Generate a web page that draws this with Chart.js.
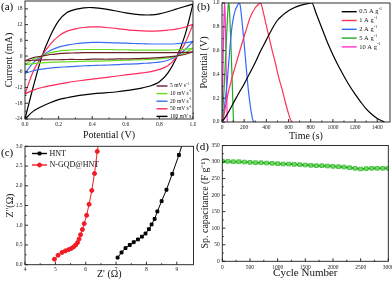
<!DOCTYPE html>
<html>
<head>
<meta charset="utf-8">
<script src="https://cdn.jsdelivr.net/npm/chart.js@4.4.1/dist/chart.umd.min.js"></script>
<style>
  body { margin: 0; background: #fff; }
  #wrap { position: relative; width: 392px; height: 283px; overflow: hidden; }
  canvas { position: absolute; }
  .tag { position: absolute; font: 11px "Liberation Serif", serif; line-height: 1; color: #000; }
</style>
</head>
<body>
<div id="wrap">
  <canvas id="cv" width="196" height="142" style="left:0;top:0;width:196px;height:142px"></canvas>
  <canvas id="gcd" width="196" height="142" style="left:196px;top:0;width:196px;height:142px"></canvas>
  <canvas id="eis" width="196" height="141" style="left:0;top:142px;width:196px;height:141px"></canvas>
  <canvas id="cyc" width="196" height="141" style="left:196px;top:142px;width:196px;height:141px"></canvas>
  <div class="tag" style="left:1px;top:1px">(a)</div>
  <div class="tag" style="left:197px;top:1px">(b)</div>
  <div class="tag" style="left:1px;top:147px">(c)</div>
  <div class="tag" style="left:196px;top:141px">(d)</div>
</div>
<script>
// (a) cyclic voltammetry, current (mA) on the forward and reverse sweep
var cvPotential = [0, 0.05, 0.1, 0.15, 0.2, 0.25, 0.3, 0.35, 0.4, 0.45, 0.5, 0.55, 0.6, 0.65, 0.7, 0.75, 0.8, 0.85, 0.9, 0.95, 1.0];
var cv5Anodic    = [-1.8, -0.6, 0.0, 0.6, 0.9, 1.1, 1.2, 1.3, 1.3, 1.3, 1.3, 1.3, 1.3, 1.3, 1.3, 1.3, 1.3, 1.3, 1.3, 1.4, 1.6];
var cv5Cathodic  = [-1.8, -1.6, -1.5, -1.4, -1.4, -1.3, -1.3, -1.3, -1.2, -1.2, -1.2, -1.1, -1.1, -1.0, -0.9, -0.8, -0.6, -0.3, 0.0, 0.6, 1.6];
var cv10Anodic   = [-3.3, -1.2, 0.0, 1.2, 1.9, 2.2, 2.4, 2.5, 2.5, 2.5, 2.5, 2.4, 2.4, 2.3, 2.3, 2.3, 2.3, 2.3, 2.4, 2.6, 3.0];
var cv10Cathodic = [-3.3, -2.9, -2.6, -2.4, -2.3, -2.2, -2.1, -2.0, -1.9, -1.9, -1.8, -1.7, -1.6, -1.5, -1.4, -1.3, -1.1, -0.7, 0.0, 1.2, 3.0];
var cv20Anodic   = [-6.6, -2.5, 0.0, 2.1, 3.4, 4.2, 4.7, 5.0, 5.2, 5.2, 5.1, 5.0, 4.9, 4.8, 4.7, 4.6, 4.6, 4.6, 4.7, 5.0, 5.6];
var cv20Cathodic = [-6.6, -5.6, -5.0, -4.6, -4.3, -4.1, -3.9, -3.7, -3.6, -3.5, -3.4, -3.3, -3.1, -3.0, -2.8, -2.6, -2.3, -1.6, -0.2, 2.3, 5.6];
var cv50Anodic   = [-14.4, -5.7, 0.0, 4.5, 7.6, 9.5, 10.4, 10.9, 11.1, 11.1, 10.8, 10.5, 10.1, 9.8, 9.6, 9.5, 9.6, 9.9, 10.3, 11.0, 12.1];
var cv50Cathodic = [-14.4, -13.0, -12.0, -11.3, -10.7, -10.1, -9.6, -9.2, -8.8, -8.4, -8.0, -7.6, -7.2, -6.8, -6.4, -5.9, -5.1, -3.7, -0.5, 4.5, 12.1];
var cv100Anodic  = [-24, -11.5, -0.3, 7.6, 13.4, 16.6, 17.8, 18.4, 18.5, 18.2, 17.7, 17.1, 16.5, 16.0, 15.7, 15.7, 16.1, 16.9, 17.9, 18.9, 19.8];
var cv100Cathodic = [-24, -21, -19.2, -17.8, -16.6, -15.9, -15.3, -14.8, -14.4, -14.1, -13.9, -13.6, -13.2, -12.7, -12.1, -11.3, -9.8, -6.5, -0.8, 7.5, 19.8];
var cvLabels = ['5 mV s⁻¹', '10 mV s⁻¹', '20 mV s⁻¹', '50 mV s⁻¹', '100 mV s⁻¹'];
var cvTicksX = [0, 0.2, 0.4, 0.6, 0.8, 1.0];
var cvTicksY = [-24, -18, -12, -6, 0, 6, 12, 18];

// (b) galvanostatic charge / discharge
var gcd05Time = [0, 50, 100, 150, 200, 250, 300, 350, 400, 450, 500, 550, 600, 650, 700, 750, 810, 850, 900, 950, 1000, 1050, 1100, 1150, 1200, 1250, 1300, 1350, 1400, 1440, 1465];
var gcd05Pot  = [0, 0.07, 0.155, 0.24, 0.32, 0.41, 0.50, 0.60, 0.69, 0.78, 0.855, 0.90, 0.935, 0.96, 0.978, 0.99, 1.0, 0.91, 0.79, 0.67, 0.565, 0.47, 0.385, 0.305, 0.235, 0.17, 0.11, 0.065, 0.03, 0.01, 0];
var gcd1Time  = [0, 15, 50, 90, 130, 180, 220, 256, 300, 330, 348, 360, 390, 420, 450, 480, 510, 540, 570, 600, 620, 635];
var gcd1Pot   = [0, 0.05, 0.22, 0.37, 0.50, 0.66, 0.78, 0.885, 0.96, 0.99, 1.0, 0.97, 0.85, 0.73, 0.61, 0.50, 0.38, 0.28, 0.17, 0.07, 0.015, 0];
var gcd2Time  = [0, 10, 25, 45, 60, 75, 90, 105, 120, 135, 155, 166, 180, 196, 211, 226, 241, 256, 270, 280, 288];
var gcd2Pot   = [0, 0.03, 0.15, 0.32, 0.49, 0.66, 0.80, 0.885, 0.94, 0.97, 1.0, 0.97, 0.85, 0.70, 0.54, 0.38, 0.24, 0.13, 0.05, 0.01, 0];
var gcd5Time  = [0, 8, 20, 30, 40, 48, 55, 60, 65, 72, 80, 88, 95, 100, 104];
var gcd5Pot   = [0, 0.1, 0.3, 0.5, 0.7, 0.85, 0.97, 1.0, 0.97, 0.85, 0.66, 0.45, 0.25, 0.1, 0];
var gcd10Time = [0, 5, 10, 15, 20, 24, 28, 33, 38, 43, 47, 48];
var gcd10Pot  = [0, 0.25, 0.5, 0.75, 0.93, 1.0, 0.92, 0.7, 0.45, 0.2, 0.02, 0];
var gcdLabels = ['0.5 A g⁻¹', '1 A g⁻¹', '2 A g⁻¹', '5 A g⁻¹', '10 A g⁻¹'];
var gcdTicksX = [0, 200, 400, 600, 800, 1000, 1200, 1400];
var gcdTicksY = [0, 0.2, 0.4, 0.6, 0.8, 1.0];

// (c) Nyquist plot
var hntZre  = [7.05, 7.18, 7.31, 7.45, 7.58, 7.72, 7.85, 7.97, 8.08, 8.17, 8.27, 8.36, 8.5, 8.66, 8.85, 9.07, 9.2];
var hntZim  = [0.18, 0.31, 0.42, 0.5, 0.57, 0.64, 0.71, 0.79, 0.9, 1.02, 1.16, 1.35, 1.61, 1.9, 2.3, 2.78, 3.1];
var ngqdZre = [4.97, 5.09, 5.22, 5.33, 5.43, 5.52, 5.6, 5.67, 5.73, 5.78, 5.83, 5.89, 5.95, 6.03, 6.11, 6.2, 6.29, 6.38, 6.44];
var ngqdZim = [0.14, 0.24, 0.31, 0.35, 0.38, 0.41, 0.45, 0.5, 0.56, 0.65, 0.76, 0.89, 1.04, 1.25, 1.53, 1.88, 2.31, 2.87, 3.15];
var eisTicksX = [4, 5, 6, 7, 8, 9];
var eisTicksY = [0, 0.5, 1.0, 1.5, 2.0, 2.5, 3.0];

// (d) cycling stability
var cycNumber = [0, 100, 200, 300, 400, 500, 600, 700, 800, 900, 1000, 1100, 1200, 1300, 1400, 1500, 1600, 1700, 1800, 1900, 2000, 2100, 2200, 2300, 2400, 2500, 2600, 2700, 2800, 2900, 3000];
var cycCapacitance = [303, 302, 301, 301, 300, 299, 298, 298, 297, 296, 295, 294, 294, 293, 292, 291, 290, 289, 289, 288, 287, 286, 285, 283, 281, 279, 280, 281, 281, 281, 281];
var cycTicksX = [0, 500, 1000, 1500, 2000, 2500, 3000];
var cycTicksY = [0, 50, 100, 150, 200, 250, 300, 350];

Chart.defaults.font.family = '"Liberation Serif", "Times New Roman", serif';

function pairs(xs, ys) {
	return xs.map(function(x, i) { return { x: x, y: ys[i] }; });
}

// forward sweep then the reverse sweep back to 0 V
function cvLoop(anodic, cathodic) {
	var pts = pairs(cvPotential, anodic);
	for (var i = cvPotential.length - 1; i >= 0; i--) {
		pts.push({ x: cvPotential[i], y: cathodic[i] });
	}
	return pts;
}

function drawSupText(ctx, text, x, y, size) {
	var parts = text.split('⁻¹');
	ctx.textAlign = 'left';
	ctx.textBaseline = 'middle';
	ctx.font = size + 'px "Liberation Serif"';
	ctx.fillText(parts[0], x, y);
	if (parts.length > 1) {
		var w = ctx.measureText(parts[0]).width;
		ctx.font = (size * 0.6) + 'px "Liberation Serif"';
		ctx.fillText('-1', x + w + 0.3, y - size * 0.38);
	}
}

function withMinor(scale) {
	var vals = scale.ticks.map(function(t) { return t.value; });
	var out = [];
	vals.forEach(function(v, i) {
		out.push([v, true]);
		if (i < vals.length - 1) out.push([(v + vals[i + 1]) / 2, false]);
	});
	return out;
}

// closed box with inward ticks
var frame = {
	id: 'frame',
	afterDatasetsDraw: function(chart) {
		var ctx = chart.ctx, a = chart.chartArea;
		var xs = chart.scales.x, ys = chart.scales.y;
		ctx.save();
		ctx.strokeStyle = '#1a1a1a';
		ctx.lineWidth = 0.9;
		ctx.strokeRect(a.left, a.top, a.right - a.left, a.bottom - a.top);
		ctx.beginPath();
		withMinor(xs).forEach(function(t) {
			var p = xs.getPixelForValue(t[0]);
			ctx.moveTo(p, a.bottom);
			ctx.lineTo(p, a.bottom - (t[1] ? 3 : 1.5));
		});
		withMinor(ys).forEach(function(t) {
			var p = ys.getPixelForValue(t[0]);
			ctx.moveTo(a.left, p);
			ctx.lineTo(a.left + (t[1] ? 3 : 1.5), p);
		});
		ctx.stroke();
		ctx.restore();
	}
};

var boxLegend = {
	id: 'boxLegend',
	afterDraw: function(chart, args, opts) {
		if (opts.x == null) return;
		var ctx = chart.ctx;
		ctx.save();
		chart.data.datasets.forEach(function(ds, i) {
			var y = opts.y + i * opts.gap;
			ctx.strokeStyle = ds.borderColor;
			ctx.lineWidth = 1.4;
			ctx.beginPath();
			ctx.moveTo(opts.x, y);
			ctx.lineTo(opts.x + opts.len, y);
			ctx.stroke();
			if (ds.pointRadius) {
				ctx.fillStyle = ds.pointBackgroundColor;
				ctx.lineWidth = 1;
				Chart.helpers.drawPoint(ctx, { pointStyle: ds.pointStyle, radius: ds.pointRadius, borderWidth: 1, rotation: 0 }, opts.x + opts.len / 2, y);
			}
			ctx.fillStyle = '#111';
			drawSupText(ctx, ds.label, opts.x + opts.len + 2.5, y, opts.size);
		});
		ctx.restore();
	}
};

function axis(horizontal, min, max, ticks, digits, title, size, titleSize, titlePad, tickPad) {
	return {
		type: 'linear',
		min: min,
		max: max,
		afterBuildTicks: function(s) {
			s.ticks = ticks.map(function(v) { return { value: v }; });
		},
		afterFit: function(s) {
			if (horizontal) s.height = size; else s.width = size;
			s.paddingLeft = 0; s.paddingRight = 0; s.paddingTop = 0; s.paddingBottom = 0;
		},
		grid: { display: false, drawTicks: false },
		border: { display: false },
		ticks: {
			font: { size: 5.5 },
			color: '#222',
			padding: tickPad,
			maxRotation: 0,
			autoSkip: false,
			callback: function(v) { return v.toFixed(digits); }
		},
		title: {
			display: true,
			text: title,
			color: '#111',
			font: { size: titleSize },
			padding: horizontal ? { top: 0, bottom: titlePad } : { top: titlePad, bottom: 0 }
		}
	};
}

function panel(id, datasets, xScale, yScale, pad, legend) {
	return new Chart(document.getElementById(id), {
		type: 'scatter',
		data: { datasets: datasets },
		options: {
			responsive: false,
			animation: false,
			devicePixelRatio: 1,
			layout: { autoPadding: false, padding: pad },
			scales: { x: xScale, y: yScale },
			plugins: {
				legend: { display: false },
				tooltip: { enabled: false },
				boxLegend: legend
			}
		},
		plugins: [frame, boxLegend]
	});
}

// (a)
var cvColors = ['#6e1f2b', '#66dd22', '#3b6cf2', '#ff2a5a', '#000000'];
var cvSeries = [[cv5Anodic, cv5Cathodic], [cv10Anodic, cv10Cathodic], [cv20Anodic, cv20Cathodic],
	[cv50Anodic, cv50Cathodic], [cv100Anodic, cv100Cathodic]];
panel('cv', cvSeries.map(function(s, i) {
	return {
		label: cvLabels[i], data: cvLoop(s[0], s[1]), showLine: true,
		borderColor: cvColors[i], borderWidth: 1.2, pointRadius: 0, tension: 0.3, clip: 0
	};
}),
	axis(true, 0, 1, cvTicksX, 1, 'Potential (V)', 23, 10, 1, 2.5),
	axis(false, -24, 21, cvTicksY, 0, 'Current (mA)', 25, 10, 3, 2.5),
	{ top: 1, right: 3, left: 0, bottom: 0 },
	{ x: 156.5, y: 86, gap: 7.6, len: 11, size: 5.5 });

// (b)
var gcdColors = ['#000000', '#ff3355', '#3366ff', '#22aa22', '#ff33cc'];
var gcdSeries = [[gcd05Time, gcd05Pot], [gcd1Time, gcd1Pot], [gcd2Time, gcd2Pot], [gcd5Time, gcd5Pot], [gcd10Time, gcd10Pot]];
panel('gcd', gcdSeries.map(function(s, i) {
	return {
		label: gcdLabels[i], data: pairs(s[0], s[1]), showLine: true,
		borderColor: gcdColors[i], borderWidth: 1.2, pointRadius: 0,
		cubicInterpolationMode: 'monotone', clip: 0
	};
}),
	axis(true, 0, 1515, gcdTicksX, 0, 'Time (s)', 20, 10, 0, 2.5),
	axis(false, 0, 1, gcdTicksY, 1, 'Potential (V)', 26, 10, 2, 2.5),
	{ top: 3, right: 2, left: 0, bottom: 0 },
	{ x: 145.7, y: 11.7, gap: 8.8, len: 15, size: 6.5 });

// (c)
panel('eis', [
	{ label: 'HNT', data: pairs(hntZre, hntZim), showLine: true, borderColor: '#000', borderWidth: 1,
		pointStyle: 'rect', pointRadius: 2, pointBackgroundColor: '#000', pointBorderColor: '#000', clip: 0 },
	{ label: 'N-GQD@HNT', data: pairs(ngqdZre, ngqdZim), showLine: true, borderColor: '#f01c24', borderWidth: 1,
		pointStyle: 'circle', pointRadius: 2, pointBackgroundColor: '#f01c24', pointBorderColor: '#f01c24', clip: 0 }
],
	axis(true, 4, 9.55, eisTicksX, 0, "Z' (Ω)", 18.3, 10, 2.3, 2),
	axis(false, 0, 3, eisTicksY, 1, "Z''(Ω)", 25, 10, 4, 2.5),
	{ top: 4.3, right: 2.5, left: 0, bottom: 0 },
	{ x: 32, y: 11.5, gap: 11.5, len: 15, size: 8 });

// (d)
panel('cyc', [
	{ label: 'capacitance', data: pairs(cycNumber, cycCapacitance), showLine: true,
		borderColor: '#1e9a1e', borderWidth: 2, pointStyle: 'rect', pointRadius: 2.6,
		pointBackgroundColor: '#6fdc5a', pointBorderColor: '#3cb83c', pointBorderWidth: 0.8, clip: 0 }
],
	axis(true, 0, 3000, cycTicksX, 0, 'Cycle Number', 21.7, 11, 3.4, 2.5),
	axis(false, 0, 350, cycTicksY, 0, 'Sp. capacitance (F g⁻¹)', 26.3, 10, 3.5, 2.5),
	{ top: 3.5, right: 3.7, left: 0, bottom: 0 },
	{});
</script>
</body>
</html>
